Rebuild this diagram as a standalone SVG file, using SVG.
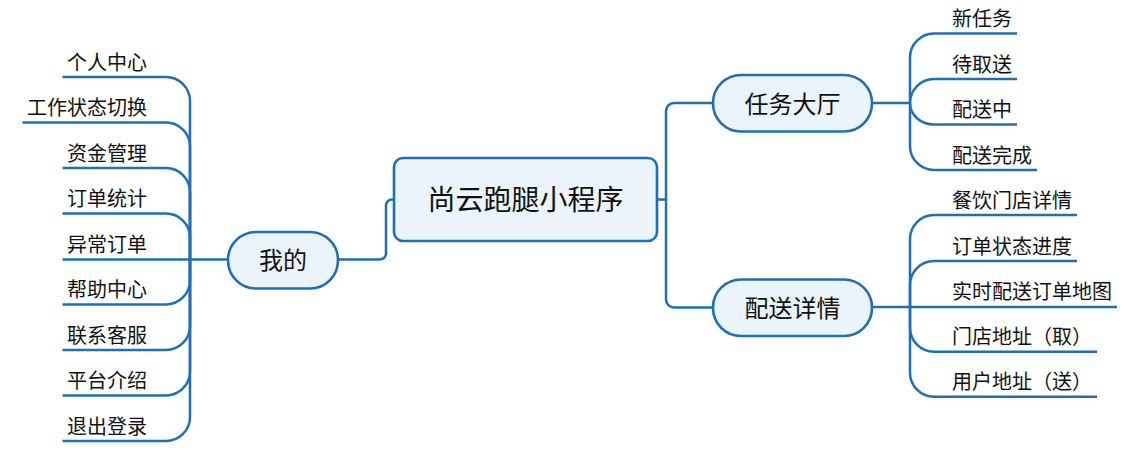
<svg xmlns="http://www.w3.org/2000/svg" width="1140" height="452" viewBox="0 0 1140 452">
<style>
.c{fill:none;stroke:#1F6FB7;stroke-width:2.5;stroke-linecap:butt}
.n{fill:#EBF3FB;stroke:#1F6FB7;stroke-width:2.6}
text{font-family:"Liberation Sans","Noto Sans CJK SC",sans-serif;fill:#111}
.lf{font-size:20px}
.l{text-anchor:end}
.r{text-anchor:start}
.m{font-size:24px;text-anchor:middle}
.t{font-size:28px;text-anchor:middle}
</style>
<rect width="1140" height="452" fill="#fff"/>
<g id="connectors">
<path class="c" d="M338,259.5 H380 A6,6 0 0 0 386,253.5 V205.5 A6,6 0 0 1 392,199.5 H394"/>
<path class="c" d="M657,199.5 H666 V111 A8,8 0 0 1 674,103 H713"/>
<path class="c" d="M666,199.5 V299.5 A8,8 0 0 0 674,307.5 H713"/>
<path class="c" d="M190,259.5 V101 A24,24 0 0 0 166,77 H62.5"/>
<path class="c" d="M190,259.5 V146.5 A24,24 0 0 0 166,122.5 H22.5"/>
<path class="c" d="M190,259.5 V192 A24,24 0 0 0 166,168 H62.5"/>
<path class="c" d="M190,259.5 V237.5 A24,24 0 0 0 166,213.5 H62.5"/>
<path class="c" d="M228,259.5 H62.5"/>
<path class="c" d="M190,259.5 V280.5 A24,24 0 0 1 166,304.5 H62.5"/>
<path class="c" d="M190,259.5 V326 A24,24 0 0 1 166,350 H62.5"/>
<path class="c" d="M190,259.5 V371.5 A24,24 0 0 1 166,395.5 H62.5"/>
<path class="c" d="M190,259.5 V417 A24,24 0 0 1 166,441 H62.5"/>
<path class="c" d="M872,103 H910"/>
<path class="c" d="M910,103 V57.5 A24,24 0 0 1 934,33.5 H1017"/>
<path class="c" d="M910,103 A24,24 0 0 1 934,79 H1017"/>
<path class="c" d="M910,103 A24,21.5 0 0 0 934,124.5 H1017"/>
<path class="c" d="M910,103 V146 A24,24 0 0 0 934,170 H1037"/>
<path class="c" d="M872,307 H910"/>
<path class="c" d="M910,307 V239 A24,24 0 0 1 934,215 H1077"/>
<path class="c" d="M910,307 V285 A24,24 0 0 1 934,261 H1077"/>
<path class="c" d="M910,307 H1117"/>
<path class="c" d="M910,307 V327.7 A24,24 0 0 0 934,351.7 H1097"/>
<path class="c" d="M910,307 V372.7 A24,24 0 0 0 934,396.7 H1097"/>
</g>
<g id="root"><rect class="n" x="394" y="158" width="263" height="83" rx="9"/><text class="t" x="525.5" y="210">尚云跑腿小程序</text></g>
<g id="wode"><rect class="n" x="228" y="232" width="110" height="56.5" rx="28"/><text class="m" x="283" y="269">我的</text></g>
<g id="renwu"><rect class="n" x="713" y="75" width="159" height="56.5" rx="28"/><text class="m" x="792.5" y="112.5">任务大厅</text></g>
<g id="peisong"><rect class="n" x="713" y="279.5" width="159" height="56.5" rx="28"/><text class="m" x="792.5" y="317">配送详情</text></g>
<g id="l1"><text class="lf l" x="147" y="69.5">个人中心</text></g>
<g id="l2"><text class="lf l" x="147" y="115">工作状态切换</text></g>
<g id="l3"><text class="lf l" x="147" y="160.5">资金管理</text></g>
<g id="l4"><text class="lf l" x="147" y="206">订单统计</text></g>
<g id="l5"><text class="lf l" x="147" y="252">异常订单</text></g>
<g id="l6"><text class="lf l" x="147" y="297">帮助中心</text></g>
<g id="l7"><text class="lf l" x="147" y="342.5">联系客服</text></g>
<g id="l8"><text class="lf l" x="147" y="388">平台介绍</text></g>
<g id="l9"><text class="lf l" x="147" y="433.5">退出登录</text></g>
<g id="r1"><text class="lf r" x="952" y="26">新任务</text></g>
<g id="r2"><text class="lf r" x="952" y="71.5">待取送</text></g>
<g id="r3"><text class="lf r" x="952" y="117">配送中</text></g>
<g id="r4"><text class="lf r" x="952" y="162.5">配送完成</text></g>
<g id="r5"><text class="lf r" x="952" y="207.5">餐饮门店详情</text></g>
<g id="r6"><text class="lf r" x="952" y="253.5">订单状态进度</text></g>
<g id="r7"><text class="lf r" x="952" y="299">实时配送订单地图</text></g>
<g id="r8"><text class="lf r" x="952" y="344">门店地址（取）</text></g>
<g id="r9"><text class="lf r" x="952" y="389">用户地址（送）</text></g>
</svg>
